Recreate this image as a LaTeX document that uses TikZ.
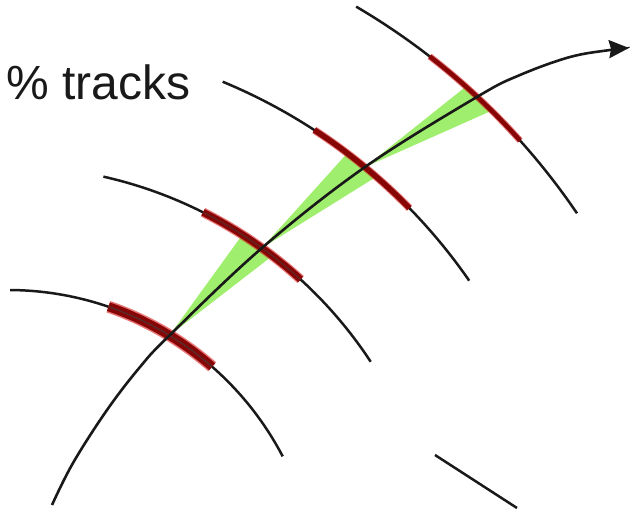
\documentclass[tikz,border=0pt]{standalone}
\usepackage{fontspec}
\setmainfont{Liberation Sans}
\usetikzlibrary{arrows.meta}
\definecolor{hitred}{RGB}{135,5,5}
\definecolor{hitglow}{RGB}{215,25,25}
\definecolor{conegreen}{RGB}{160,238,110}
\tikzset{
  layer/.style={line width=2.5pt, draw=black!90},
  hitseg/.style={line width=#1, draw=hitred, line cap=butt},
  hitfringe/.style={line width=#1, draw=hitglow, line cap=butt, opacity=0.6},
  cone/.style={fill=conegreen, draw=none},
  trackline/.style={line width=2.6pt, draw=black!90, -{Stealth[length=20pt,width=18pt,inset=2pt]}},
  label/.style={font=\fontsize{48}{58}\selectfont, inner sep=0pt, anchor=base west, text=black!90}
}
\begin{document}
\begin{tikzpicture}[x=1pt,y=1pt]
\useasboundingbox (0,0) rectangle (630,509);
\coordinate (C) at (8,-91);
\coordinate (h1) at ([shift={(58.6:310)}]C);
\coordinate (h2) at ([shift={(54.2:434)}]C);
\coordinate (h3) at ([shift={(50.5:561)}]C);
\coordinate (h4) at ([shift={(47.0:688)}]C);
\coordinate (b1) at (435,54);
\coordinate (b2) at (517,1);

% green cones
\fill[cone] (h1) -- ([shift={(57.3:436)}]C) -- ([shift={(52.4:436)}]C) -- cycle;
\fill[cone] (h2) -- ([shift={(52.8:560)}]C) -- ([shift={(49.0:560)}]C) -- cycle;
\fill[cone] (h3) -- ([shift={(48.3:686)}]C) -- ([shift={(45.4:686)}]C) -- cycle;

% detector layers
\draw[layer] ([shift={(89.6:310)}]C) arc[start angle=89.6, end angle=27.6, radius=310];
\draw[layer] ([shift={(77.3:434)}]C) arc[start angle=77.3, end angle=33.3, radius=434];
\draw[layer] ([shift={(67.5:561)}]C) arc[start angle=67.5, end angle=34.7, radius=561];
\draw[layer] ([shift={(59.6:688)}]C) arc[start angle=59.6, end angle=34.2, radius=688];
\draw[layer] (b1) -- (b2);

% red hit segments
\draw[hitfringe=12pt] ([shift={(71.1:310)}]C) arc[start angle=71.1, end angle=48.8, radius=310];
\draw[hitseg=9pt] ([shift={(71.1:310)}]C) arc[start angle=71.1, end angle=48.8, radius=310];
\draw[hitfringe=9.5pt] ([shift={(63.3:434)}]C) arc[start angle=63.3, end angle=47.6, radius=434];
\draw[hitseg=7pt] ([shift={(63.3:434)}]C) arc[start angle=63.3, end angle=47.6, radius=434];
\draw[hitfringe=7.5pt] ([shift={(56.9:561)}]C) arc[start angle=56.9, end angle=44.3, radius=561];
\draw[hitseg=5.5pt] ([shift={(56.9:561)}]C) arc[start angle=56.9, end angle=44.3, radius=561];
\draw[hitfringe=6.5pt] ([shift={(52.2:688)}]C) arc[start angle=52.2, end angle=41.9, radius=688];
\draw[hitseg=4.5pt] ([shift={(52.2:688)}]C) arc[start angle=52.2, end angle=41.9, radius=688];
% dark core of layer inside hits
\draw[line width=1.6pt, black!75, opacity=0.6] ([shift={(71.1:310)}]C) arc[start angle=71.1, end angle=48.8, radius=310];
\draw[line width=1.4pt, black!75, opacity=0.5] ([shift={(63.3:434)}]C) arc[start angle=63.3, end angle=47.6, radius=434];

% track
\draw[trackline] plot[smooth, tension=0.6] coordinates {(52,4) (73,46) (107,99) (140,142) (169.5,173.6) (261.9,261.0) (364.9,341.9) (477.2,412.2) (520,434) (570,452) (610,459) (629,461)};

\node[label] (lbl) at (6,409.5) {\% tracks};
\end{tikzpicture}
\end{document}
